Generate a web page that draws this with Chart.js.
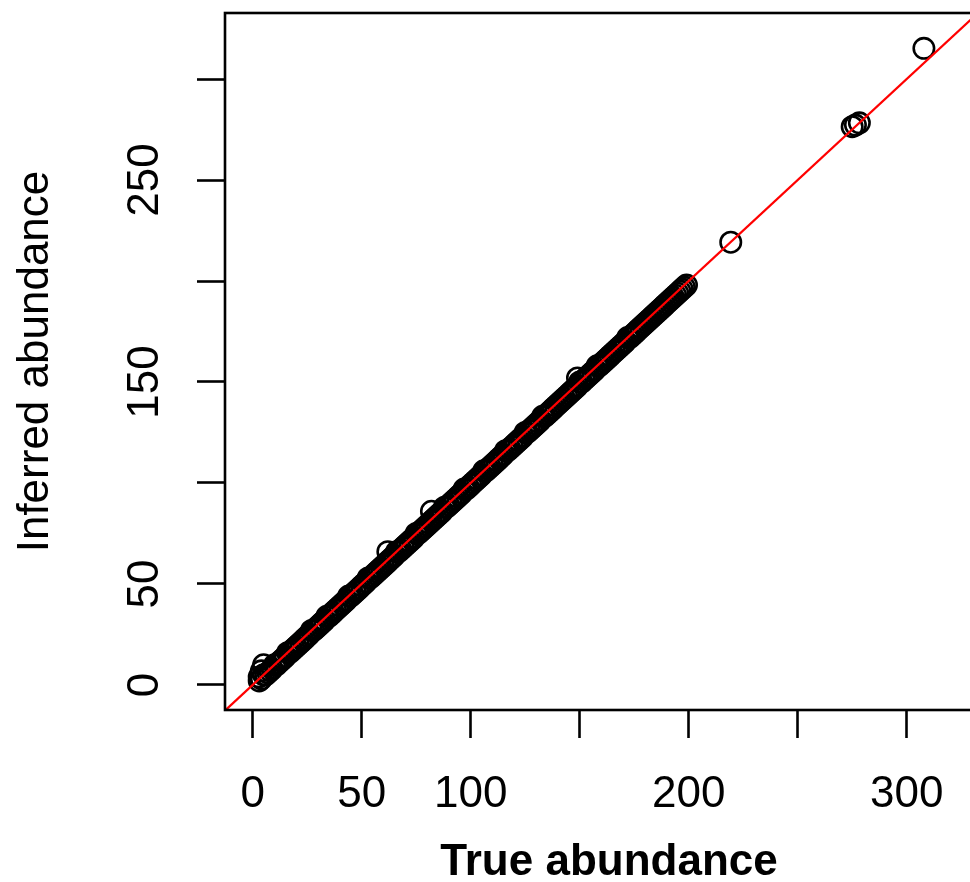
<!DOCTYPE html>
<html>
<head>
<meta charset="utf-8">
<script src="https://cdn.jsdelivr.net/npm/chart.js@4.4.1/dist/chart.umd.min.js"></script>
<style>
  html, body { margin: 0; padding: 0; background: #fff; overflow: hidden; }
</style>
</head>
<body>
<canvas id="abundance_chart" width="993" height="882"></canvas>
<script>
// values: the dense band first, then the few stray points
const trueAbundance = [
    3, 4, 5, 6, 7, 8, 9, 10, 11, 12, 13, 14, 15, 16, 17, 18, 19, 20,
    21, 22, 23, 24, 25, 26, 27, 28, 29, 30, 31, 32, 33, 34, 35, 36, 37, 38, 39, 40,
    41, 42, 43, 44, 45, 46, 47, 48, 49, 50, 51, 52, 53, 54, 55, 56, 57, 58, 59, 60,
    61, 62, 63, 64, 65, 66, 67, 68, 69, 70, 71, 72, 73, 74, 75, 76, 77, 78, 79, 80,
    81, 82, 83, 84, 85, 86, 87, 88, 89, 90, 91, 92, 93, 94, 95, 96, 97, 98, 99, 100,
    101, 102, 103, 104, 105, 106, 107, 108, 109, 110, 111, 112, 113, 114, 115, 116, 117, 118, 119, 120,
    121, 122, 123, 124, 125, 126, 127, 128, 129, 130, 131, 132, 133, 134, 135, 136, 137, 138, 139, 140,
    141, 142, 143, 144, 145, 146, 147, 148, 149, 150, 151, 152, 153, 154, 155, 156, 157, 158, 159, 160,
    161, 162, 163, 164, 165, 166, 167, 168, 169, 170, 171, 172, 173, 174, 175, 176, 177, 178, 179, 180,
    181, 182, 183, 184, 185, 186, 187, 188, 189, 190, 191, 192, 193, 194, 195, 196, 197, 198, 199,
    3, 5, 4, 62, 82, 149, 219.3, 275, 276.5, 278.3, 307.9
];
const inferredAbundance = [
    2, 3, 5, 5, 6, 7, 8, 10, 10, 11, 12, 13, 14, 16, 16, 17, 18, 19,
    20, 21, 22, 23, 24, 25, 27, 27, 28, 29, 30, 31, 32, 34, 34, 35, 36, 37, 38, 39,
    40, 41, 42, 44, 44, 45, 46, 47, 48, 49, 50, 51, 53, 53, 54, 55, 56, 57, 58, 59,
    60, 61, 62, 63, 64, 66, 66, 67, 68, 69, 70, 71, 72, 73, 75, 75, 76, 77, 78, 79,
    80, 81, 82, 83, 84, 85, 86, 88, 88, 89, 90, 91, 92, 93, 94, 95, 97, 97, 98, 99,
    100, 101, 102, 103, 104, 106, 106, 107, 108, 109, 110, 111, 112, 113, 114, 116, 116, 117, 118, 119,
    120, 121, 122, 123, 125, 125, 126, 127, 128, 129, 130, 131, 133, 133, 134, 135, 136, 137, 138, 139,
    140, 141, 142, 143, 144, 145, 146, 147, 148, 150, 150, 151, 152, 153, 154, 155, 156, 158, 158, 159,
    160, 161, 162, 163, 164, 165, 166, 167, 168, 169, 170, 172, 172, 173, 174, 175, 176, 177, 178, 179,
    180, 181, 182, 183, 184, 185, 186, 187, 188, 189, 190, 191, 192, 193, 194, 195, 196, 197, 198,
    4, 10, 7, 66, 86, 152, 219.2, 276.4, 277.2, 278.3, 315.2
];
const xTicks = [0, 50, 100, 150, 200, 250, 300];
const xTickLabels = [0, 50, 100, 200, 300];
const yTicks = [0, 50, 100, 150, 200, 250, 300];
const yTickLabels = [0, 50, 150, 250];
const identityLine = [-50, 400];

const FONT = "'Liberation Sans', Arial, Helvetica, sans-serif";

const scatterPoints = trueAbundance.map((v, i) => ({x: v, y: inferredAbundance[i]}));
const linePoints = identityLine.map(v => ({x: v, y: v}));

// box round the plot region plus the rotated y tick labels
const rBox = {
    id: 'rBox',
    afterDraw: (chart) => {
        const ctx = chart.ctx;
        const a = chart.chartArea;
        ctx.save();
        ctx.strokeStyle = '#000';
        ctx.lineWidth = 2.6;
        ctx.strokeRect(a.left, a.top, a.right - a.left, a.bottom - a.top);
        ctx.fillStyle = '#000';
        ctx.font = '44px ' + FONT;
        ctx.textAlign = 'center';
        ctx.textBaseline = 'alphabetic';
        const ys = chart.scales.y;
        yTickLabels.forEach(v => {
            ctx.save();
            ctx.translate(a.left - 67, ys.getPixelForValue(v));
            ctx.rotate(-Math.PI / 2);
            ctx.fillText(String(v), 0, 0);
            ctx.restore();
        });
        ctx.restore();
    }
};

new Chart("abundance_chart", {
    type: 'scatter',
    data: {
        datasets: [{
            type: 'line',
            data: linePoints,
            borderColor: '#ff0000',
            borderWidth: 2.2,
            pointRadius: 0,
            fill: false,
            order: 0
        }, {
            data: scatterPoints,
            backgroundColor: 'rgba(0,0,0,0)',
            borderColor: '#000',
            borderWidth: 2.6,
            pointRadius: 10.2,
            pointHoverRadius: 10.2,
            order: 1
        }]
    },
    options: {
        responsive: false,
        animation: false,
        devicePixelRatio: 1,
        layout: {autoPadding: false, padding: {top: 13, left: 0, right: 0, bottom: 0}},
        plugins: {legend: {display: false}, tooltip: {enabled: false}},
        scales: {
            x: {
                type: 'linear',
                min: -12.7,
                max: 339.6,
                afterBuildTicks: (scale) => { scale.ticks = xTicks.map(v => ({value: v})); },
                afterFit: (scale) => {
                    scale.height = 172;
                    scale.paddingLeft = 0;
                    scale.paddingRight = 0;
                },
                border: {display: false},
                grid: {drawOnChartArea: false, drawTicks: true, tickLength: 28, tickWidth: 2.6, tickColor: '#000'},
                ticks: {
                    color: '#000',
                    padding: 30,
                    maxRotation: 0,
                    autoSkip: false,
                    font: {family: FONT, size: 44},
                    callback: (v) => xTickLabels.includes(v) ? String(v) : ''
                },
                title: {
                    display: true,
                    text: 'True abundance',
                    color: '#000',
                    font: {family: FONT, size: 44, weight: 'bold', lineHeight: 0.85},
                    padding: {top: 0, bottom: 0}
                }
            },
            y: {
                type: 'linear',
                min: -12.4,
                max: 332.7,
                afterBuildTicks: (scale) => { scale.ticks = yTicks.map(v => ({value: v})); },
                afterFit: (scale) => {
                    scale.width = 225;
                    scale.paddingTop = 0;
                    scale.paddingBottom = 0;
                },
                border: {display: false},
                grid: {drawOnChartArea: false, drawTicks: true, tickLength: 28, tickWidth: 2.6, tickColor: '#000'},
                ticks: {display: false},
                title: {
                    display: true,
                    text: 'Inferred abundance',
                    color: '#000',
                    font: {family: FONT, size: 44, lineHeight: 1.2},
                    padding: {top: 9, bottom: 0}
                }
            }
        }
    },
    plugins: [rBox]
});
</script>
</body>
</html>
